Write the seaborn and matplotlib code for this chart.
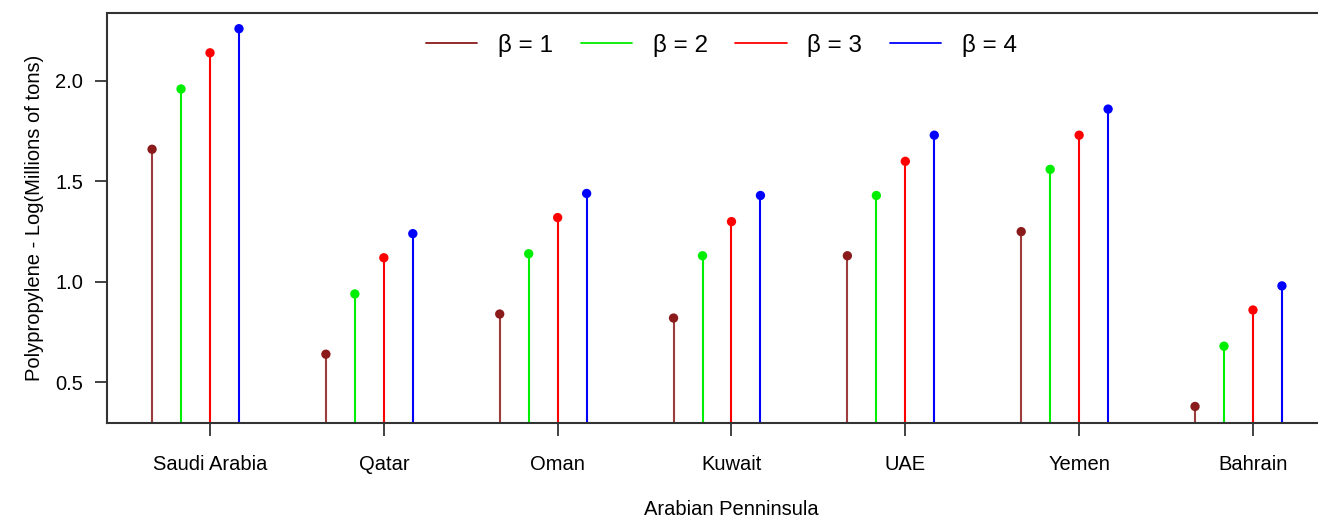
import matplotlib
matplotlib.use("Agg")
import matplotlib.pyplot as plt
from matplotlib.lines import Line2D
import numpy as np
import pandas as pd
import seaborn as sns

countries = ["Saudi Arabia", "Qatar", "Oman", "Kuwait", "UAE", "Yemen", "Bahrain"]
beta_labels = ["β = 1", "β = 2", "β = 3", "β = 4"]
beta1 = [1.66, 0.64, 0.84, 0.82, 1.13, 1.25, 0.38]
beta2 = [1.96, 0.94, 1.14, 1.13, 1.43, 1.56, 0.68]
beta3 = [2.14, 1.12, 1.32, 1.30, 1.60, 1.73, 0.86]
beta4 = [2.26, 1.24, 1.44, 1.43, 1.73, 1.86, 0.98]
colors = ["#8b1a1a", "#00ee00", "#ff0000", "#0000ff"]
offsets = [-2 / 6, -1 / 6, 0, 1 / 6]

series = [beta1, beta2, beta3, beta4]
rows = []
for lab, vals, off in zip(beta_labels, series, offsets):
    for i, (c, v) in enumerate(zip(countries, vals)):
        rows.append({"country": c, "beta": lab, "x": i + off, "value": v})
df = pd.DataFrame(rows)

sns.set_style("white")
plt.rcParams["font.family"] = ["Liberation Sans", "DejaVu Sans"]
plt.rcParams["text.color"] = "black"
plt.rcParams["axes.labelcolor"] = "black"
plt.rcParams["xtick.color"] = "black"
plt.rcParams["ytick.color"] = "black"

fig = plt.figure(figsize=(13.18, 5.19), dpi=100)
ax = fig.add_axes([0.081, 0.1855, 0.948, 0.789])

ymin, ymax = 0.299, 2.337
for lab, col in zip(beta_labels, colors):
    sub = df[df["beta"] == lab]
    ax.vlines(sub["x"], ymin, sub["value"], color=col, linewidth=1.5,
              alpha=0.85 if lab == "β = 1" else 1.0, zorder=2)

sns.scatterplot(data=df, x="x", y="value", hue="beta", palette=colors,
                hue_order=beta_labels, s=45, linewidth=0, ax=ax,
                legend=False, zorder=3)

ax.set_xlim(-0.594, len(countries) - 1 + 0.594)
ax.set_ylim(ymin, ymax)
ax.set_xticks(range(len(countries)))
ax.set_xticklabels(countries)
ax.set_yticks([0.5, 1.0, 1.5, 2.0])
ax.set_yticklabels(["0.5", "1.0", "1.5", "2.0"])
ax.tick_params(axis="x", length=9, width=1.2, color="#222222", pad=14,
               labelsize=14.5, direction="out", bottom=True)
ax.tick_params(axis="y", length=9, width=1.2, color="#222222", pad=8,
               labelsize=14.5, direction="out", left=True)
ax.set_xlabel("Arabian Penninsula", fontsize=14.5, labelpad=19)
ax.set_ylabel("Polypropylene - Log(Millions of tons)", fontsize=14.5, labelpad=8)

for side in ["left", "bottom", "top", "right"]:
    ax.spines[side].set_color("#333333")
    ax.spines[side].set_linewidth(1.5)

handles = [Line2D([0], [0], color=c, linewidth=1.3) for c in colors]
ax.legend(handles, beta_labels, loc="center", bbox_to_anchor=(0.492, 0.922),
          ncol=4, frameon=False, fontsize=17.5, handlelength=2.1,
          handletextpad=0.85, columnspacing=1.15)

fig.savefig("out.png", dpi=100)
